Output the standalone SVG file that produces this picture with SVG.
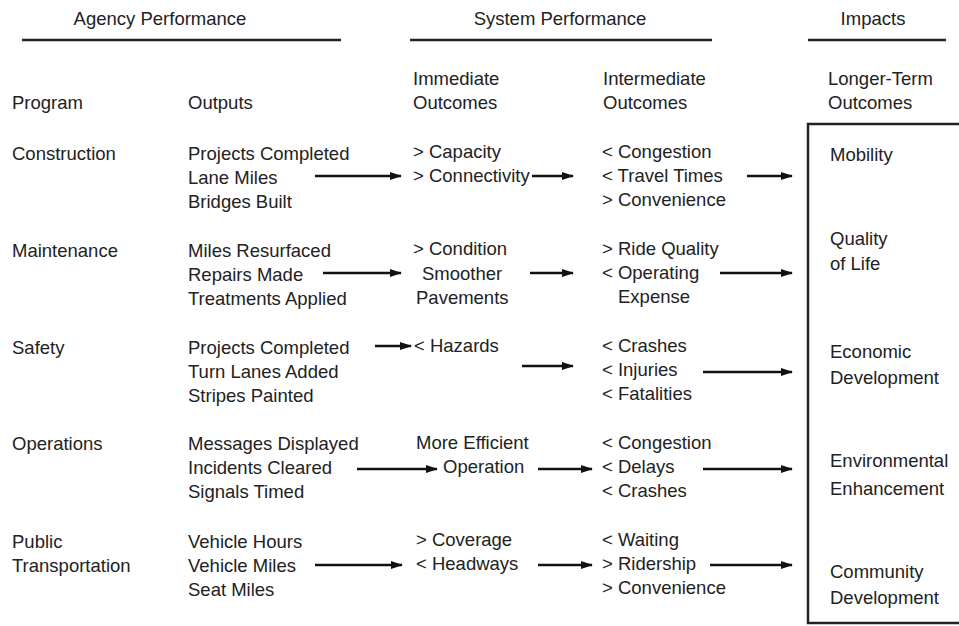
<svg xmlns="http://www.w3.org/2000/svg" width="959" height="626" viewBox="0 0 959 626">
<style>
text{font-family:"Liberation Sans",Arial,sans-serif;font-size:18.5px;fill:#222}
.h{text-anchor:middle}
.rule{stroke:#222;stroke-width:2.5}
.c{stroke:#111;stroke-width:2.5;fill:none;marker-end:url(#ah)}
</style>
<defs>
<marker id="ah" markerWidth="12" markerHeight="8" refX="11" refY="4" orient="auto" markerUnits="userSpaceOnUse">
<path d="M0,0 L12,4 L0,8 Z" fill="#111"/>
</marker>
</defs>
<rect width="959" height="626" fill="#fff"/>
<g id="headers">
<text class="h" x="160" y="25">Agency Performance</text>
<text class="h" x="560" y="25">System Performance</text>
<text class="h" x="873" y="25">Impacts</text>
<line class="rule" x1="22" y1="40" x2="341" y2="40"/>
<line class="rule" x1="410" y1="40" x2="712" y2="40"/>
<line class="rule" x1="808" y1="40" x2="946" y2="40"/>
<text x="12" y="109">Program</text>
<text x="188" y="109">Outputs</text>
<text x="413" y="85">Immediate</text>
<text x="413" y="109">Outcomes</text>
<text x="603" y="85">Intermediate</text>
<text x="603" y="109">Outcomes</text>
<text x="828" y="85">Longer-Term</text>
<text x="828" y="109">Outcomes</text>
</g>
<g id="impacts-box">
<path d="M959,124 H808 V623 H959" fill="none" stroke="#222" stroke-width="2.5"/>
</g>
<g id="construction">
<text x="12" y="160">Construction</text>
<text x="188" y="160">Projects Completed</text>
<text x="188" y="184">Lane Miles</text>
<text x="188" y="208">Bridges Built</text>
<text x="413" y="158">&gt; Capacity</text>
<text x="413" y="182">&gt; Connectivity</text>
<text x="602" y="158">&lt; Congestion</text>
<text x="602" y="182">&lt; Travel Times</text>
<text x="602" y="206">&gt; Convenience</text>
</g>
<g id="maintenance">
<text x="12" y="257">Maintenance</text>
<text x="188" y="257">Miles Resurfaced</text>
<text x="188" y="281">Repairs Made</text>
<text x="188" y="305">Treatments Applied</text>
<text x="413" y="255">&gt; Condition</text>
<text x="422" y="280">Smoother</text>
<text x="416" y="304">Pavements</text>
<text x="602" y="255">&gt; Ride Quality</text>
<text x="602" y="279">&lt; Operating</text>
<text x="618" y="303">Expense</text>
</g>
<g id="safety">
<text x="12" y="354">Safety</text>
<text x="188" y="354">Projects Completed</text>
<text x="188" y="378">Turn Lanes Added</text>
<text x="188" y="402">Stripes Painted</text>
<text x="414" y="352">&lt; Hazards</text>
<text x="602" y="352">&lt; Crashes</text>
<text x="602" y="376">&lt; Injuries</text>
<text x="602" y="400">&lt; Fatalities</text>
</g>
<g id="operations">
<text x="12" y="450">Operations</text>
<text x="188" y="450">Messages Displayed</text>
<text x="188" y="474">Incidents Cleared</text>
<text x="188" y="498">Signals Timed</text>
<text x="416" y="449">More Efficient</text>
<text x="443" y="473">Operation</text>
<text x="602" y="449">&lt; Congestion</text>
<text x="602" y="473">&lt; Delays</text>
<text x="602" y="497">&lt; Crashes</text>
</g>
<g id="public-transportation">
<text x="12" y="548">Public</text>
<text x="12" y="572">Transportation</text>
<text x="188" y="548">Vehicle Hours</text>
<text x="188" y="572">Vehicle Miles</text>
<text x="188" y="596">Seat Miles</text>
<text x="416" y="546">&gt; Coverage</text>
<text x="416" y="570">&lt; Headways</text>
<text x="602" y="546">&lt; Waiting</text>
<text x="602" y="570">&gt;  Ridership</text>
<text x="602" y="594">&gt; Convenience</text>
</g>
<g id="mobility"><text x="830" y="161">Mobility</text></g>
<g id="quality-of-life"><text x="830" y="245">Quality</text><text x="830" y="270">of Life</text></g>
<g id="economic-development"><text x="830" y="358">Economic</text><text x="830" y="384">Development</text></g>
<g id="environmental-enhancement"><text x="830" y="467">Environmental</text><text x="830" y="495">Enhancement</text></g>
<g id="community-development"><text x="830" y="578">Community</text><text x="830" y="604">Development</text></g>
<g id="connectors">
<line class="c" x1="315" y1="176" x2="401" y2="176"/>
<line class="c" x1="532" y1="176" x2="573" y2="176"/>
<line class="c" x1="747" y1="176" x2="792" y2="176"/>
<line class="c" x1="323" y1="273" x2="401" y2="273"/>
<line class="c" x1="530" y1="273" x2="573" y2="273"/>
<line class="c" x1="720" y1="273" x2="792" y2="273"/>
<line class="c" x1="375" y1="346" x2="411" y2="346"/>
<line class="c" x1="522" y1="366" x2="573" y2="366"/>
<line class="c" x1="703" y1="372" x2="792" y2="372"/>
<line class="c" x1="357" y1="469" x2="437" y2="469"/>
<line class="c" x1="538" y1="469" x2="592" y2="469"/>
<line class="c" x1="703" y1="469" x2="792" y2="469"/>
<line class="c" x1="315" y1="565" x2="402" y2="565"/>
<line class="c" x1="538" y1="565" x2="592" y2="565"/>
<line class="c" x1="710" y1="565" x2="792" y2="565"/>
</g>
</svg>
